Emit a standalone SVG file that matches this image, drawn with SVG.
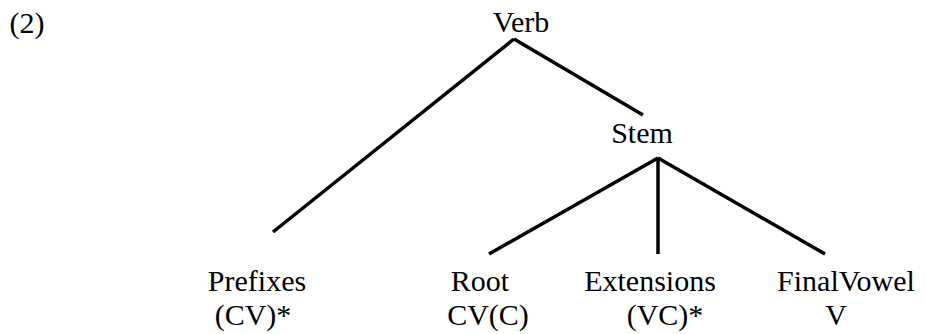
<svg xmlns="http://www.w3.org/2000/svg" width="926" height="334" viewBox="0 0 926 334">
<style>
text{font-family:"Liberation Serif","Times New Roman",serif;font-size:30px;fill:#000;text-anchor:middle}
.e{stroke:#000;stroke-width:3.5;fill:none;stroke-linecap:butt}
</style>
<rect width="926" height="334" fill="#fff"/>
<g id="label"><text x="27" y="33">(2)</text></g>
<g id="verb"><text x="521" y="32">Verb</text></g>
<g id="stem"><text x="642" y="143">Stem</text></g>
<g id="prefixes"><text x="257" y="291">Prefixes</text><text x="253" y="325">(CV)*</text></g>
<g id="root"><text x="480" y="291">Root</text><text x="488" y="325">CV(C)</text></g>
<g id="extensions"><text x="650" y="291">Extensions</text><text x="665" y="325">(VC)*</text></g>
<g id="finalvowel"><text x="846" y="291">FinalVowel</text><text x="836" y="325">V</text></g>
<g id="connectors">
<line class="e" x1="514" y1="39" x2="273" y2="232"/>
<line class="e" x1="514" y1="39" x2="643" y2="115"/>
<line class="e" x1="658" y1="158" x2="489" y2="254"/>
<line class="e" x1="658" y1="158" x2="658" y2="254"/>
<line class="e" x1="658" y1="158" x2="825" y2="254"/>
</g>
</svg>
